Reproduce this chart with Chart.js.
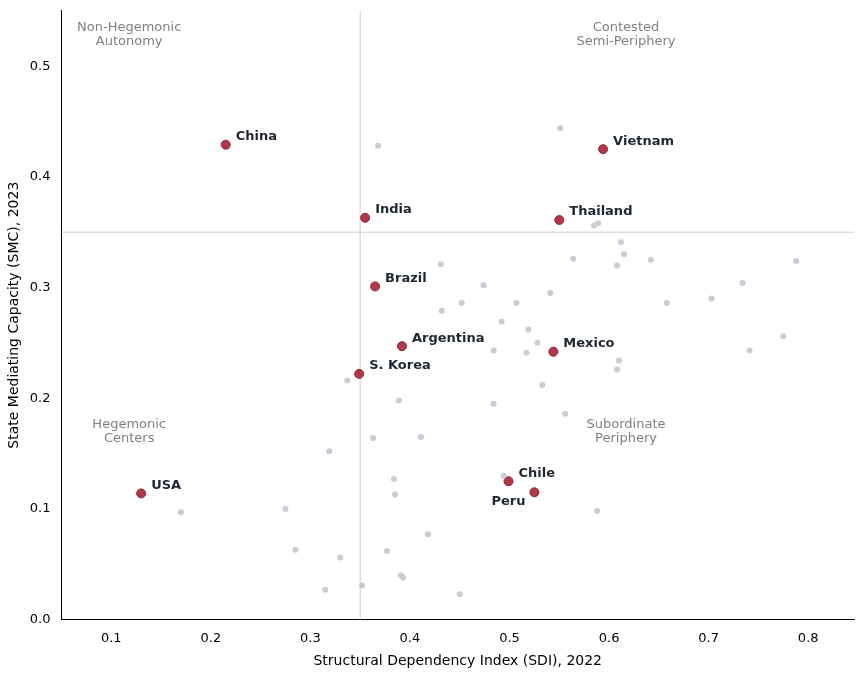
<!DOCTYPE html>
<html>
<head>
<meta charset="utf-8">
<script src="https://cdn.jsdelivr.net/npm/chart.js@4"></script>
<style>
  html, body { margin: 0; padding: 0; background: #fff; }
  #wrap { width: 864px; height: 678px; }
</style>
</head>
<body>
<div id="wrap"><canvas id="chart"></canvas></div>
<script>
// highlighted countries
const countries = ["China", "Vietnam", "India", "Thailand", "Brazil", "Argentina", "Mexico", "S. Korea", "USA", "Chile", "Peru"];
const countrySdi = [0.215, 0.594, 0.355, 0.550, 0.365, 0.392, 0.544, 0.349, 0.130, 0.499, 0.525];
const countrySmc = [0.429, 0.425, 0.363, 0.361, 0.301, 0.247, 0.242, 0.222, 0.114, 0.125, 0.115];

// other countries (grey)
const otherSdi = [0.551, 0.368, 0.589, 0.585, 0.612, 0.615, 0.564, 0.608, 0.642, 0.788, 0.431, 0.474, 0.452, 0.507,
  0.541, 0.658, 0.703, 0.734, 0.432, 0.492, 0.519, 0.528, 0.484, 0.517, 0.610, 0.608, 0.741, 0.775, 0.337, 0.533,
  0.389, 0.484, 0.556, 0.411, 0.363, 0.319, 0.494, 0.384, 0.385, 0.170, 0.275, 0.588, 0.418, 0.285, 0.377, 0.330,
  0.391, 0.393, 0.352, 0.315, 0.450];
const otherSmc = [0.444, 0.428, 0.358, 0.356, 0.341, 0.330, 0.326, 0.320, 0.325, 0.324, 0.321, 0.302, 0.286, 0.286,
  0.295, 0.286, 0.290, 0.304, 0.279, 0.269, 0.262, 0.250, 0.243, 0.241, 0.234, 0.226, 0.243, 0.256, 0.216, 0.212,
  0.198, 0.195, 0.186, 0.165, 0.164, 0.152, 0.130, 0.127, 0.113, 0.097, 0.100, 0.098, 0.077, 0.063, 0.062, 0.056,
  0.040, 0.038, 0.031, 0.027, 0.023];

const xTicks = [0.1, 0.2, 0.3, 0.4, 0.5, 0.6, 0.7, 0.8];
const yTicks = [0.0, 0.1, 0.2, 0.3, 0.4, 0.5];
const sdiCut = 0.35;
const smcCut = 0.35;

const quadrants = [
  { lines: ["Non-Hegemonic", "Autonomy"], x: 0.118, y: 0.535 },
  { lines: ["Contested", "Semi-Periphery"], x: 0.617, y: 0.535 },
  { lines: ["Hegemonic", "Centers"], x: 0.118, y: 0.176 },
  { lines: ["Subordinate", "Periphery"], x: 0.617, y: 0.176 },
];

// annotations: cut lines, quadrant labels, country labels
const overlay = {
  id: "overlay",
  beforeDatasetsDraw(chart) {
    const { ctx, chartArea: a, scales: { x, y } } = chart;
    ctx.save();
    ctx.strokeStyle = "#cccccc";
    ctx.lineWidth = 1;
    ctx.beginPath();
    ctx.moveTo(x.getPixelForValue(sdiCut), a.top);
    ctx.lineTo(x.getPixelForValue(sdiCut), a.bottom);
    ctx.moveTo(a.left, y.getPixelForValue(smcCut));
    ctx.lineTo(a.right, y.getPixelForValue(smcCut));
    ctx.stroke();

    ctx.fillStyle = "#808080";
    ctx.font = "13px 'DejaVu Sans'";
    ctx.textAlign = "center";
    ctx.textBaseline = "middle";
    for (const q of quadrants) {
      const px = x.getPixelForValue(q.x);
      const py = y.getPixelForValue(q.y);
      q.lines.forEach((t, i) => ctx.fillText(t, px, py + i * 14));
    }
    ctx.restore();
  },
  afterDatasetsDraw(chart) {
    const { ctx, scales: { x, y } } = chart;
    ctx.save();
    ctx.fillStyle = "#1f2633";
    ctx.font = "bold 13px 'DejaVu Sans'";
    ctx.textBaseline = "middle";
    countries.forEach((name, i) => {
      const px = x.getPixelForValue(countrySdi[i]);
      const py = y.getPixelForValue(countrySmc[i]);
      if (name === "Peru") {
        ctx.textAlign = "right";
        ctx.fillText(name, px - 9, py + 9);
      } else {
        ctx.textAlign = "left";
        ctx.fillText(name, px + 10, py - 8);
      }
    });
    ctx.restore();
  },
};

new Chart(document.getElementById("chart"), {
  type: "scatter",
  data: {
    datasets: [
      {
        label: "Other",
        data: otherSdi.map((v, i) => ({ x: v, y: otherSmc[i] })),
        backgroundColor: "#c9ccd6",
        borderWidth: 0,
        pointRadius: 3,
      },
      {
        label: "Highlighted",
        data: countrySdi.map((v, i) => ({ x: v, y: countrySmc[i] })),
        backgroundColor: "#b03848",
        borderColor: "#8a2a36",
        borderWidth: 1,
        pointRadius: 4.5,
      },
    ],
  },
  options: {
    responsive: true,
    maintainAspectRatio: false,
    animation: false,
    layout: { padding: { top: 10, right: 10, left: 2, bottom: 4 } },
    plugins: { legend: { display: false }, tooltip: { enabled: false } },
    scales: {
      x: {
        min: 0.05,
        max: 0.846,
        grid: { display: false, drawTicks: true },
        border: { color: "#000" },
        afterBuildTicks: (s) => { s.ticks = xTicks.map((v) => ({ value: v })); },
        ticks: { color: "#000", font: { size: 13, family: "DejaVu Sans" }, callback: (v) => v.toFixed(1) },
        title: { display: true, text: "Structural Dependency Index (SDI), 2022", color: "#000", font: { size: 14, family: "DejaVu Sans" } },
      },
      y: {
        min: 0,
        max: 0.55,
        grid: { display: false },
        border: { color: "#000" },
        afterBuildTicks: (s) => { s.ticks = yTicks.map((v) => ({ value: v })); },
        ticks: { color: "#000", font: { size: 13, family: "DejaVu Sans" }, callback: (v) => v.toFixed(1) },
        title: { display: true, text: "State Mediating Capacity (SMC), 2023", color: "#000", font: { size: 14, family: "DejaVu Sans" } },
      },
    },
  },
  plugins: [overlay],
});
</script>
</body>
</html>
